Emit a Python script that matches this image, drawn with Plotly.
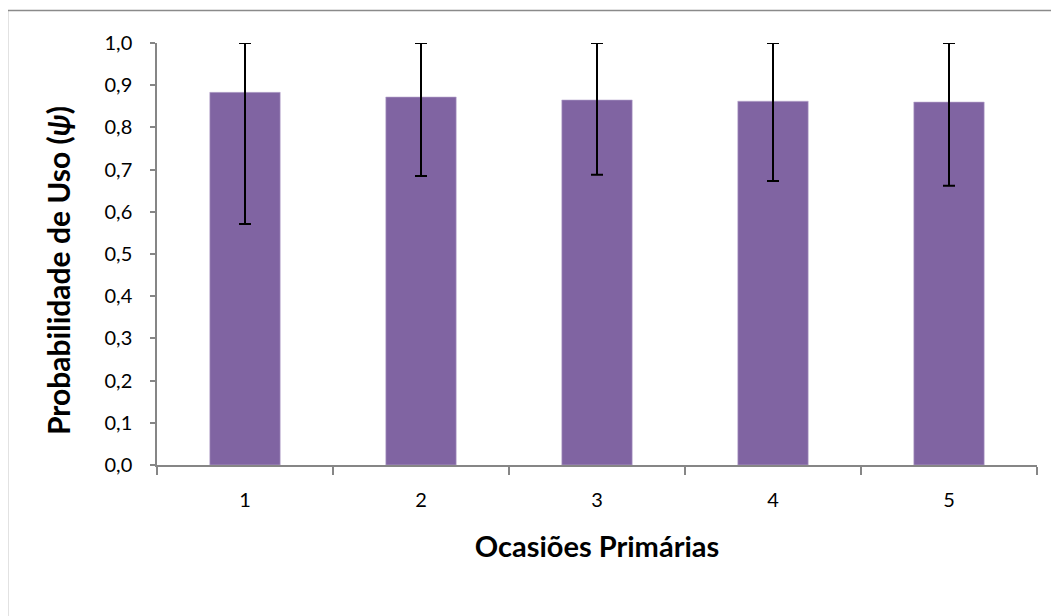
import plotly.graph_objects as go

categories = ["1", "2", "3", "4", "5"]
psi = [0.883, 0.872, 0.865, 0.862, 0.860]
upper = [1.0, 1.0, 1.0, 1.0, 1.0]
lower = [0.571, 0.685, 0.688, 0.673, 0.662]

err_plus = [u - v for u, v in zip(upper, psi)]
err_minus = [v - l for v, l in zip(psi, lower)]

FONT = "Lato"
AXIS = "#868686"

fig = go.Figure()
fig.add_trace(go.Bar(
    x=categories, y=psi,
    marker=dict(color="#8064A2", line=dict(color="#B9A9CF", width=0.6)),
    error_y=dict(type="data", symmetric=False, array=err_plus, arrayminus=err_minus,
                 color="black", thickness=2, width=6),
    showlegend=False,
))

# page has an 8px body offset; compensate so plot area lands at x 157-1037, y 43-465
OFF = 8
W, H = 1059, 616
L, T = 157 - OFF, 43 - OFF
R = W - (1037 - OFF)
B = H - (465 - OFF)
pw, ph = W - L - R, H - T - B

fig.update_layout(
    width=W, height=H,
    margin=dict(l=L, r=R, t=T, b=B, pad=0),
    paper_bgcolor="white", plot_bgcolor="white",
    separators=",.",
    bargap=0.6,
    font=dict(family=FONT, size=20, color="black"),
    xaxis=dict(
        type="category", showline=True, linecolor=AXIS, linewidth=1.5,
        ticks="outside", tickson="boundaries", ticklen=8, tickcolor=AXIS, tickwidth=1.5,
        ticklabelstandoff=16, tickfont=dict(size=20, family=FONT),
        title=dict(text="<b>Ocasiões Primárias</b>", font=dict(size=29, family=FONT), standoff=27),
        showgrid=False, zeroline=False,
    ),
    yaxis=dict(
        range=[0, 1.0], dtick=0.1, tickformat=".1f",
        showline=True, linecolor=AXIS, linewidth=1.5,
        ticks="outside", ticklen=5, tickcolor=AXIS, tickwidth=1.5,
        ticklabelstandoff=14, tickfont=dict(size=20, family=FONT),
        showgrid=False, zeroline=False,
    ),
)

# y-axis title (placed as rotated text, centred slightly below the plot middle as in the reference)
fig.add_annotation(
    text="<b>Probabilidade de Uso (<i>ψ</i>)</b>",
    xref="paper", yref="paper",
    x=(58 - OFF - L) / pw, y=(H - B - (271 - OFF)) / ph,
    xanchor="center", yanchor="middle", textangle=-90, showarrow=False,
    font=dict(size=30, family=FONT, color="black"),
)

# outer chart border (only left and top visible in the frame)
x0 = (7.5 - OFF - L) / pw
y1 = (H - B - (10.5 - OFF)) / ph
fig.add_shape(type="line", xref="paper", yref="paper", x0=x0, x1=x0, y0=-2, y1=y1,
              line=dict(color="#8a8a8a", width=1.5))
fig.add_shape(type="line", xref="paper", yref="paper", x0=x0, x1=2, y0=y1, y1=y1,
              line=dict(color="#8a8a8a", width=1.5))

fig.write_html("out.html")
